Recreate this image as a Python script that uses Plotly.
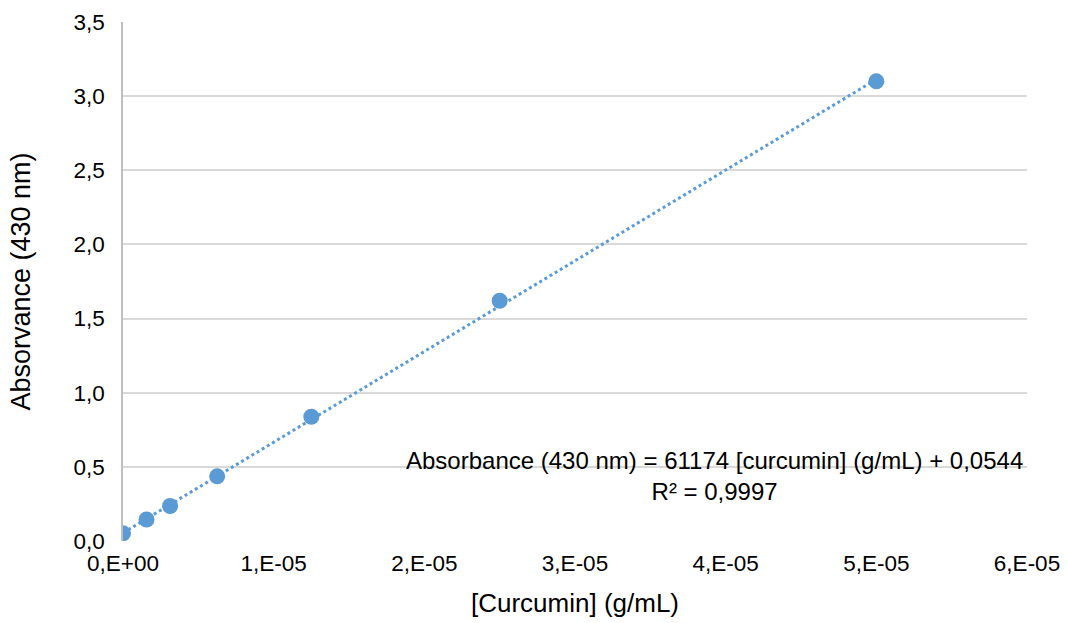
import plotly.graph_objects as go

conc = [0, 1.5625e-6, 3.125e-6, 6.25e-6, 1.25e-5, 2.5e-5, 5e-5]
absorb = [0.052, 0.145, 0.236, 0.436, 0.838, 1.62, 3.10]
slope = 61174
intercept = 0.0544
x_ticks = [0, 1e-5, 2e-5, 3e-5, 4e-5, 5e-5, 6e-5]
x_tick_text = ["0,E+00", "1,E-05", "2,E-05", "3,E-05", "4,E-05", "5,E-05", "6,E-05"]
y_ticks = [0, 0.5, 1.0, 1.5, 2.0, 2.5, 3.0, 3.5]
y_tick_text = ["0,0", "0,5", "1,0", "1,5", "2,0", "2,5", "3,0", "3,5"]

color = "#5B9BD5"
trend_x = [conc[0], conc[-1]]
trend_y = [slope * v + intercept for v in trend_x]

fig = go.Figure()
fig.add_trace(go.Scatter(x=trend_x, y=trend_y, mode="lines",
                         line=dict(color=color, width=3, dash="dot"),
                         hoverinfo="skip", showlegend=False))
fig.add_trace(go.Scatter(x=conc, y=absorb, mode="markers",
                         marker=dict(color=color, size=16),
                         showlegend=False))

font = "Liberation Sans, Arial, sans-serif"
fig.update_layout(
    width=1067, height=623,
    margin=dict(l=123, r=40, t=22, b=82),
    plot_bgcolor="white", paper_bgcolor="white",
    font=dict(family=font, size=22, color="#000000"),
    xaxis=dict(range=[0, 6e-5], tickvals=x_ticks, ticktext=x_tick_text,
               automargin=False,
               showgrid=False, zeroline=False, showline=False,
               ticks="", tickfont=dict(size=22.5), ticklabelstandoff=6,
               title=dict(text="[Curcumin] (g/mL)", font=dict(size=26), standoff=19)),
    yaxis=dict(range=[0, 3.5], tickvals=y_ticks, ticktext=y_tick_text,
               automargin=False,
               showgrid=True, gridcolor="#D9D9D9", gridwidth=1.5,
               zeroline=False, showline=True, linecolor="#BFBFBF", linewidth=1.5,
               ticks="", tickfont=dict(size=22.5), ticklabelstandoff=12,
               title=dict(text="Absorvance (430 nm)", font=dict(size=27), standoff=35)),
    annotations=[dict(
        xref="paper", yref="paper", x=0.654, y=0.125, xanchor="center", yanchor="middle",
        text="Absorbance (430 nm) = 61174 [curcumin] (g/mL) + 0,0544<br>R² = 0,9997",
        showarrow=False, align="center", font=dict(size=24, family=font))],
)

fig.write_html("out.html")
